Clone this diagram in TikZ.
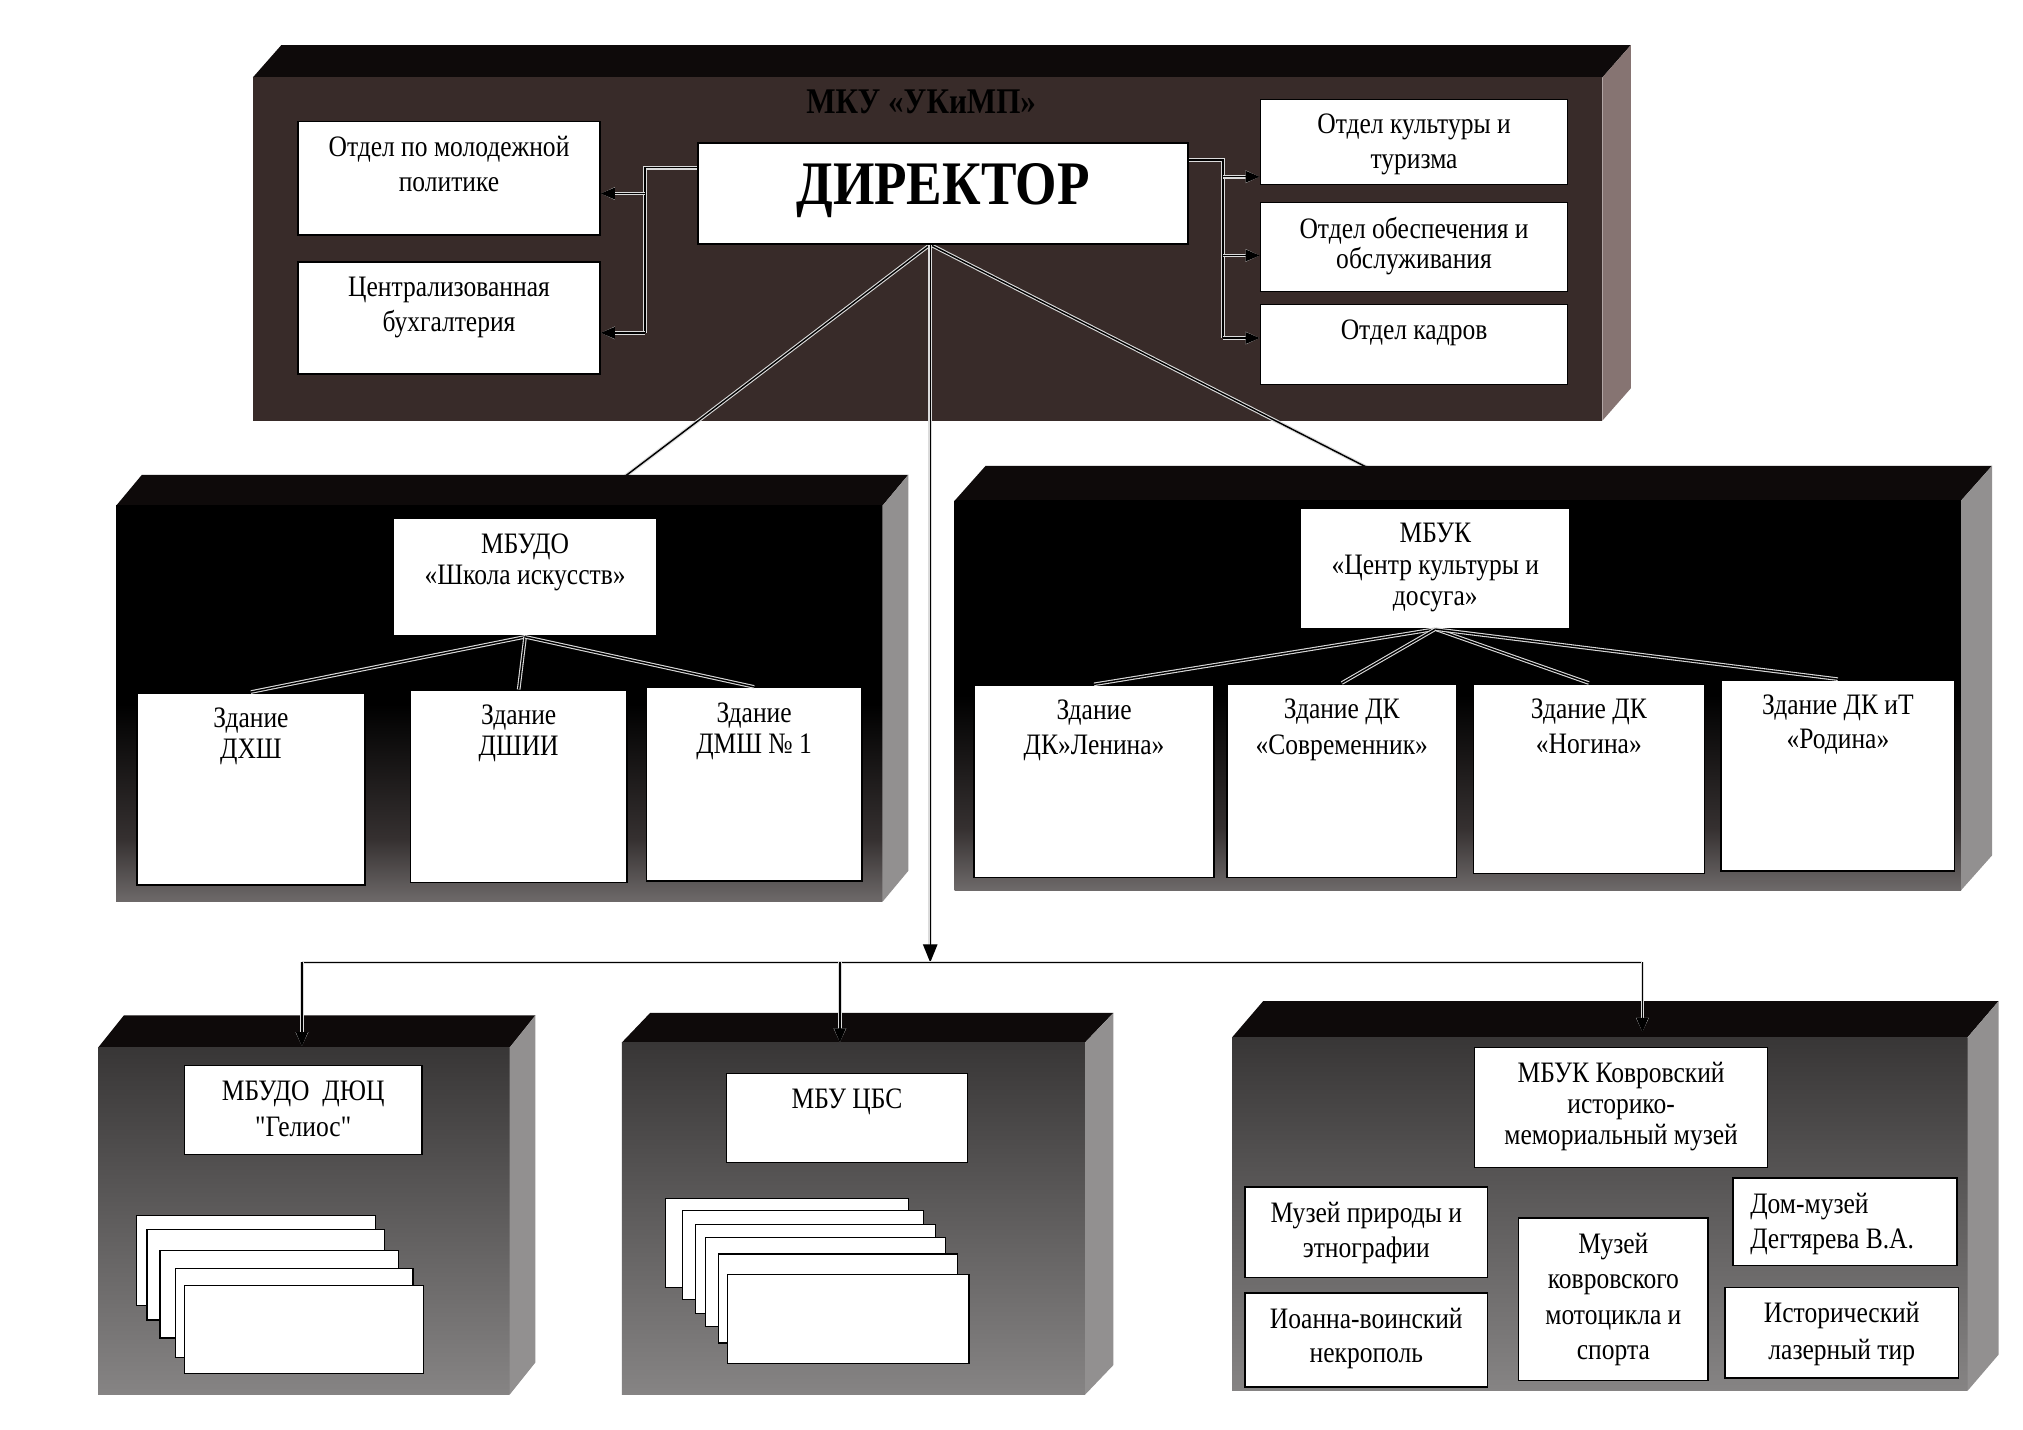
\documentclass[tikz,border=0pt]{standalone}
\usepackage{fontspec}
\setmainfont[FakeStretch=0.86]{Liberation Serif}
\newfontfamily\plainserif[FakeStretch=0.86]{Liberation Serif}
\usetikzlibrary{arrows.meta,calc}
\definecolor{topc}{HTML}{0E0A0A}
\definecolor{afront}{HTML}{382B29}
\definecolor{aside}{HTML}{867472}
\definecolor{gside}{HTML}{929090}
\definecolor{mlow}{HTML}{6E6A6A}
\definecolor{mdark}{HTML}{353030}
\definecolor{btop}{HTML}{383636}
\definecolor{bmid}{HTML}{585656}
\definecolor{bbot}{HTML}{868484}
\pgfdeclareverticalshading{midshade}{100bp}{color(0bp)=(mlow); color(25bp)=(mlow); color(33bp)=(mdark); color(50bp)=(black); color(100bp)=(black)}
\pgfdeclarelayer{pa}\pgfdeclarelayer{ca}\pgfdeclarelayer{pb}
\pgfsetlayers{pa,ca,pb,main}
\newcommand\fsz[1]{\fontsize{23}{#1}\selectfont}
% white box: [options]{name}{x1}{y1}{x2}{y2}
\newcommand\wb[6][]{\node[wbox,minimum width={(#5)-(#3)},minimum height={(#6)-(#4)},#1] (#2) at ({((#3)+(#5))/2},{((#4)+(#6))/2}) {};}
% 3D panel: {x1}{y1}{x2}{y2}{dx}{dy}{front style}{side colour}
\newcommand\panel[8]{%
  \fill[topc] (#1,#2) -- ({(#1)+(#5)},{(#2)+(#6)}) -- ({(#3)+(#5)},{(#2)+(#6)}) -- (#3,#2) -- cycle;
  \path[#7] (#1,#2) rectangle (#3,#4);
  \fill[#8] (#3,#2) -- ({(#3)+(#5)},{(#2)+(#6)}) -- ({(#3)+(#5)},{(#4)+(#6)}) -- (#3,#4) -- cycle;}
\begin{document}
\begin{tikzpicture}[x=1pt,y=-1pt,
  wbox/.style={draw=black,line width=1.2pt,fill=white,inner sep=0pt},
  card/.style={draw=black,line width=1pt,fill=white,inner sep=0pt},
  txt/.style={anchor=north,inner sep=0pt,yshift=-12pt,align=center,text=black,font=\fsz{25}},
  conn/.style={draw=black,line width=1.1pt,preaction={draw=black!14,line width=2.8pt}},
  arr/.style={-{Triangle[length=11pt,width=9pt,fill=black]}},
  bigarr/.style={-{Triangle[length=14pt,width=11pt,fill=black]}}]
\useasboundingbox (0,0) rectangle (1568,1108);

% ---------- panels ----------
\begin{pgfonlayer}{pa}
  \fill[white] (0,0) rectangle (1568,1108);
  \panel{196}{60}{1242}{326}{22}{-25}{fill=afront}{aside}
\end{pgfonlayer}
\begin{pgfonlayer}{pb}
  \panel{90}{392}{684}{699}{20}{-24}{shading=midshade}{gside}
  \panel{740}{388}{1520}{690}{24}{-27}{shading=midshade}{gside}
  \panel{76}{812}{395}{1081}{20}{-25}{top color=btop,middle color=bmid,bottom color=bbot}{gside}
  \panel{482}{808}{841}{1081}{22}{-23}{top color=btop,middle color=bmid,bottom color=bbot}{gside}
  \panel{955}{804}{1525}{1078}{24}{-28}{top color=btop,middle color=bmid,bottom color=bbot}{gside}
\end{pgfonlayer}

% ---------- top block ----------
\node[font=\fontsize{28}{30}\selectfont\bfseries,text=black] (ttl) at (714,79) {МКУ «УКиМП»};
\wb[label={[txt,font=\fsz{27}]north:{Отдел по молодежной\\политике}}]{mol}{231}{94}{465}{182}
\wb[label={[txt,font=\fsz{27}]north:{Централизованная\\бухгалтерия}}]{buh}{231}{203}{465}{290}
\wb[label={[txt,yshift=-4pt,font=\fontsize{48}{50}\selectfont\bfseries]north:{ДИРЕКТОР}}]{dir}{541}{111}{921}{189}
\wb[label={[txt,font=\fsz{27}]north:{Отдел культуры и\\туризма}}]{kult}{977}{77}{1215}{143}
\wb[label={[txt,font=\fsz{23}]north:{Отдел обеспечения и\\обслуживания}}]{obesp}{977}{157}{1215}{226}
\wb[label={[txt]north:{Отдел кадров}}]{kadr}{977}{236}{1215}{298}

% ---------- middle blocks ----------
\wb[label={[txt,font=\fsz{24}]north:{МБУДО\\«Школа искусств»}}]{mbudo}{305}{402}{509}{493}
\wb[label={[txt,font=\fsz{24}]north:{Здание\\ДХШ}}]{dxsh}{106}{537}{283}{686}
\wb[label={[txt,font=\fsz{24}]north:{Здание\\ДШИИ}}]{dshii}{318}{535}{486}{684}
\wb[label={[txt,font=\fsz{24}]north:{Здание\\ДМШ № 1}}]{dmsh}{501}{533}{668}{683}

\wb[label={[txt,font=\fsz{24.5}]north:{МБУК\\«Центр культуры и\\досуга»}}]{mbuk}{1008}{394}{1217}{487}
\wb[label={[txt,font=\fsz{27}]north:{Здание\\ДК»Ленина»}}]{lenin}{755}{531}{941}{680}
\wb[label={[txt,font=\fsz{28}]north:{Здание ДК\\«Современник»}}]{sovr}{951}{530}{1129}{680}
\wb[label={[txt,font=\fsz{27}]north:{Здание ДК\\«Ногина»}}]{nogin}{1142}{530}{1321}{677}
\wb[label={[txt,font=\fsz{26}]north:{Здание ДК иТ\\«Родина»}}]{rodin}{1334}{527}{1515}{675}

% ---------- bottom blocks ----------
\wb[label={[txt,font=\fsz{28}\plainserif]north:{МБУДО\ \ ДЮЦ\\"Гелиос"}}]{dyuc}{143}{826}{327}{895}
\node[card,minimum width=185,minimum height=70] (d1) at (198.5,977) {};
\node[card,minimum width=184,minimum height=70] (d2) at (206,988) {};
\node[card,minimum width=185,minimum height=68] (d3) at (216.5,1003) {};
\node[card,minimum width=184,minimum height=69] (d4) at (228,1017.5) {};
\node[card,minimum width=185,minimum height=68] (d5) at (235.5,1030.5) {};

\wb[label={[txt]north:{МБУ ЦБС}}]{cbs}{563}{832}{750}{901}
\node[card,minimum width=188,minimum height=69] (e1) at (610,963.5) {};
\node[card,minimum width=187,minimum height=69] (e2) at (622.5,972.5) {};
\node[card,minimum width=186,minimum height=69] (e3) at (632,983.5) {};
\node[card,minimum width=186,minimum height=69] (e4) at (640,993.5) {};
\node[card,minimum width=185,minimum height=69] (e5) at (649.5,1006.5) {};
\node[card,minimum width=187,minimum height=69] (e6) at (657.5,1022.5) {};

\wb[label={[txt,font=\fsz{24}]north:{МБУК Ковровский\\историко-\\мемориальный музей}}]{muz}{1143}{812}{1370}{905}
\wb[label={[txt,font=\fsz{27}]north:{Музей природы и\\этнографии}}]{prir}{965}{920}{1153}{990}
\wb[label={[txt,font=\fsz{27}]north:{Иоанна-воинский\\некрополь}}]{ioann}{965}{1002}{1153}{1075}
\wb[label={[txt,font=\fsz{27.5}]north:{Музей\\ковровского\\мотоцикла и\\спорта}}]{moto}{1177}{944}{1324}{1070}
\wb[label={[txt,anchor=north west,xshift=14pt,align=left,font=\fsz{27}]north west:{Дом-музей\\Дегтярева В.А.}}]{dom}{1343}{913}{1517}{981}
\wb[label={[txt,font=\fsz{28}]north:{Исторический\\лазерный тир}}]{ist}{1337}{998}{1518}{1068}

% ---------- connectors from the director ----------
\coordinate (dB) at ($(dir.south)+(-10,0)$);
\coordinate (jL) at (500,130);  \coordinate (jL1) at (500,150); \coordinate (jL2) at (500,258);
\coordinate (jR) at (948,124);  \coordinate (jR1) at (948,137); \coordinate (jR2) at (948,198); \coordinate (jR3) at (948,262);
\coordinate (bus) at (dB |- 0,746);
\coordinate (busL) at (234,746); \coordinate (busM) at (651,746); \coordinate (busR) at (1273,746);
\coordinate (dTop) at (234,811); \coordinate (eTop) at (651,808); \coordinate (fTop) at (1273,800);
\begin{pgfonlayer}{ca}
  \draw[conn] (jL -| dir.west) -- (jL) -- (jL2);
  \draw[conn,arr] (jL1) -- (jL1 -| mol.east);
  \draw[conn,arr] (jL2) -- (jL2 -| buh.east);
  \draw[conn] (jR -| dir.east) -- (jR) -- (jR3);
  \draw[conn,arr] (jR1) -- (jR1 -| kult.west);
  \draw[conn,arr] (jR2) -- (jR2 -| obesp.west);
  \draw[conn,arr] (jR3) -- (jR3 -| kadr.west);
  \draw[conn,arr] (dB) -- ($(mbudo.north)+(35,0)$);
  \draw[conn,arr] (dB) -- ($(mbuk.north)+(8,0)$);
  \draw[conn,bigarr] (dB) -- (bus);
  \draw[conn] (busL) -- (busR);
\end{pgfonlayer}
\draw[conn,arr] (busL) -- (dTop);
\draw[conn,arr] (busM) -- (eTop);
\draw[conn,arr] (busR) -- (fTop);

% ---------- links inside the middle blocks ----------
\foreach \b in {dxsh,dshii,dmsh} \draw[conn] (mbudo.south) -- (\b.north);
\foreach \b in {lenin,sovr,nogin,rodin} \draw[conn] (mbuk.south) -- (\b.north);
\end{tikzpicture}
\end{document}
